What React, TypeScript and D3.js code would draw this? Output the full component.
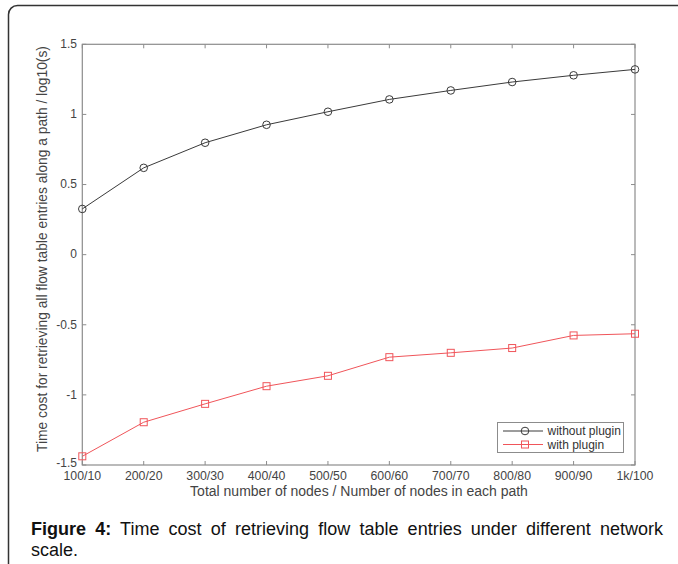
import React, { useEffect, useRef } from "react";
import * as d3 from "d3";

// categories on the x axis
const categories = ["100/10", "200/20", "300/30", "400/40", "500/50", "600/60", "700/70", "800/80", "900/90", "1k/100"];
// log10 of time cost
const withoutPlugin = [0.326, 0.619, 0.798, 0.926, 1.019, 1.107, 1.171, 1.231, 1.279, 1.321];
const withPlugin = [-1.438, -1.195, -1.064, -0.938, -0.864, -0.731, -0.7, -0.666, -0.576, -0.564];
const yTicks = [-1.5, -1, -0.5, 0, 0.5, 1, 1.5];
const yTickLabels = ["-1.5", "-1", "-0.5", "0", "0.5", "1", "1.5"];

const FONT = "'Liberation Sans', Arial, Helvetica, sans-serif";
const AXIS = "#8c8c8c";
const BLACK = "#3a3a3a";
const RED = "#f0555a";

const left = 82.3, right = 635, top = 44.3, bottom = 465;

export default function App() {
  const capRef = useRef<SVGTextElement>(null);

  const x = d3.scalePoint<string>().domain(categories).range([left, right]);
  const y = d3.scaleLinear().domain([-1.5, 1.5]).range([bottom, top]);

  const line = d3.line<number>()
    .x((_, i) => x(categories[i]) as number)
    .y((d) => y(d));

  // justify the first caption line
  useEffect(() => {
    if (!capRef.current) return;
    const t = d3.select(capRef.current);
    const target = 663 - 31;
    t.attr("word-spacing", 0);
    const w = capRef.current.getComputedTextLength();
    const words = capRef.current.textContent!.trim().split(/\s+/).length;
    t.attr("word-spacing", Math.max(0, (target - w) / (words - 1)));
  }, []);

  const ticksLen = 4;

  return (
    <svg width={678} height={564} style={{ position: "absolute", left: 0, top: 0 }} fontFamily={FONT}>
      <rect x={0} y={0} width={678} height={564} fill="#fff" />
      {/* outer frame */}
      <rect x={8.5} y={5.5} width={720} height={620} rx={9} fill="none" stroke="#333" strokeWidth={1.5} />

      {/* plot box */}
      <rect x={left} y={top} width={right - left} height={bottom - top} fill="none" stroke={AXIS} strokeWidth={1.2} />
      {categories.map((c) => (
        <g key={c}>
          <line x1={x(c)} x2={x(c)} y1={bottom} y2={bottom - ticksLen} stroke={AXIS} />
          <line x1={x(c)} x2={x(c)} y1={top} y2={top + ticksLen} stroke={AXIS} />
          <text x={x(c)} y={479.5} textAnchor="middle" fontSize={12.3} fill="#444">{c}</text>
        </g>
      ))}
      {yTicks.map((v, i) => (
        <g key={v}>
          <line x1={left} x2={left + ticksLen} y1={y(v)} y2={y(v)} stroke={AXIS} />
          <line x1={right} x2={right - ticksLen} y1={y(v)} y2={y(v)} stroke={AXIS} />
          <text x={77} y={y(v) - (i === 0 ? 1.5 : 0)} dy="0.32em" textAnchor="end" fontSize={12} fill="#444">{yTickLabels[i]}</text>
        </g>
      ))}

      <text x={359} y={496} textAnchor="middle" fontSize={14} fill="#444">
        Total number of nodes / Number of nodes in each path
      </text>
      <text transform="translate(47,249) rotate(-90)" textAnchor="middle" fontSize={13.8} fill="#444">
        Time cost for retrieving all flow table entries along a path / log10(s)
      </text>

      {/* series */}
      <path d={line(withoutPlugin) ?? ""} fill="none" stroke={BLACK} strokeWidth={1} />
      {withoutPlugin.map((v, i) => (
        <circle key={i} cx={x(categories[i])} cy={y(v)} r={3.8} fill="none" stroke={BLACK} strokeWidth={1} />
      ))}
      <path d={line(withPlugin) ?? ""} fill="none" stroke={RED} strokeWidth={1} />
      {withPlugin.map((v, i) => (
        <rect key={i} x={(x(categories[i]) as number) - 3.5} y={y(v) - 3.5} width={7} height={7} fill="none" stroke={RED} strokeWidth={1} />
      ))}

      {/* legend */}
      <rect x={497.5} y={422.5} width={126} height={30} fill="#fff" stroke={AXIS} strokeWidth={1} />
      <line x1={503} x2={543} y1={431} y2={431} stroke={BLACK} />
      <circle cx={525} cy={431} r={3.8} fill="none" stroke={BLACK} />
      <text x={547.5} y={431} dy="0.35em" fontSize={12} fill="#333">without plugin</text>
      <line x1={503} x2={543} y1={444.5} y2={444.5} stroke={RED} />
      <rect x={521.5} y={441} width={7} height={7} fill="none" stroke={RED} />
      <text x={547.5} y={444.5} dy="0.35em" fontSize={12} fill="#333">with plugin</text>

      {/* caption */}
      <text ref={capRef} x={31} y={534.5} fontSize={18} fill="#111">
        <tspan fontWeight="bold">Figure 4:</tspan> Time cost of retrieving flow table entries under different network
      </text>
      <text x={31} y={556} fontSize={18} fill="#111">scale.</text>
    </svg>
  );
}
